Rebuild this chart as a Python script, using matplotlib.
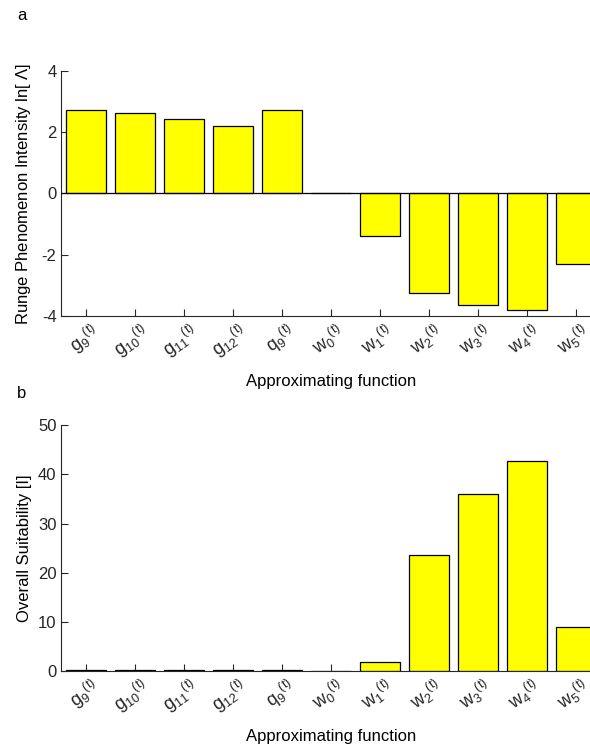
import numpy as np
import matplotlib
matplotlib.use("Agg")
import matplotlib.pyplot as plt
from matplotlib.transforms import ScaledTranslation

plt.rcParams["font.family"] = ["Liberation Sans", "DejaVu Sans"]
plt.rcParams["mathtext.fontset"] = "custom"
plt.rcParams["mathtext.rm"] = "Liberation Sans"
plt.rcParams["mathtext.it"] = "Liberation Sans"
plt.rcParams["axes.unicode_minus"] = False

# data
labels = [r"g$_{9}$$^{(t)}$", r"g$_{10}$$^{(t)}$", r"g$_{11}$$^{(t)}$",
          r"g$_{12}$$^{(t)}$", r"q$_{9}$$^{(t)}$", r"w$_{0}$$^{(t)}$",
          r"w$_{1}$$^{(t)}$", r"w$_{2}$$^{(t)}$", r"w$_{3}$$^{(t)}$",
          r"w$_{4}$$^{(t)}$", r"w$_{5}$$^{(t)}$"]
runge = [2.72, 2.62, 2.43, 2.19, 2.72, 0.0, -1.38, -3.25, -3.65, -3.80, -2.29]
suitability = [0.15, 0.12, 0.12, 0.15, 0.12, 0.0, 1.77, 23.6, 36.0, 42.8, 8.9]

x = np.arange(1, len(labels) + 1)
axcol = "#262626"

fig = plt.figure(figsize=(5.9, 7.47), dpi=100)
ax1 = fig.add_axes([0.1042, 0.577, 0.9136, 0.328])
ax2 = fig.add_axes([0.1042, 0.1017, 0.9136, 0.329])


def style(ax):
    ax.spines["top"].set_visible(False)
    ax.spines["right"].set_visible(False)
    for s in ("left", "bottom"):
        ax.spines[s].set_color(axcol)
        ax.spines[s].set_linewidth(0.8)
    ax.tick_params(direction="in", length=5, width=0.8, colors=axcol,
                   labelsize=12, labelcolor="#262626")
    ax.tick_params(axis="x", pad=3)
    ax.set_xlim(0.5, len(labels) + 0.5)
    ax.set_xticks(x)
    ax.set_xticklabels(labels, rotation=35, ha="right", va="top",
                       rotation_mode="anchor", fontsize=13)
    off = ScaledTranslation(5 / 100, 0, fig.dpi_scale_trans)
    for t in ax.get_xticklabels():
        t.set_transform(t.get_transform() + off)
    ax.set_xlabel("Approximating function", fontsize=12, labelpad=9)


ax1.bar(x, runge, width=0.8, color="#ffff00", edgecolor="black", linewidth=0.9,
        zorder=2)
ax1.axhline(0, color="black", lw=0.9, zorder=3)
style(ax1)
ax1.set_ylim(-4, 4)
ax1.set_yticks([-4, -2, 0, 2, 4])
ax1.set_ylabel(r"Runge Phenomenon Intensity ln[ $\Lambda$]", fontsize=12,
               labelpad=6)

ax2.bar(x, suitability, width=0.8, color="#ffff00", edgecolor="black",
        linewidth=0.9, zorder=2)
style(ax2)
ax2.set_ylim(0, 50)
ax2.set_yticks([0, 10, 20, 30, 40, 50])
ax2.set_ylabel("Overall Suitability [I]", fontsize=12, labelpad=4)

fig.text(22 / 590, 1 - 15 / 747, "a", fontsize=12, ha="center", va="center")
fig.text(22 / 590, 1 - 393 / 747, "b", fontsize=12, ha="center", va="center")

fig.savefig("out.png", dpi=100)
